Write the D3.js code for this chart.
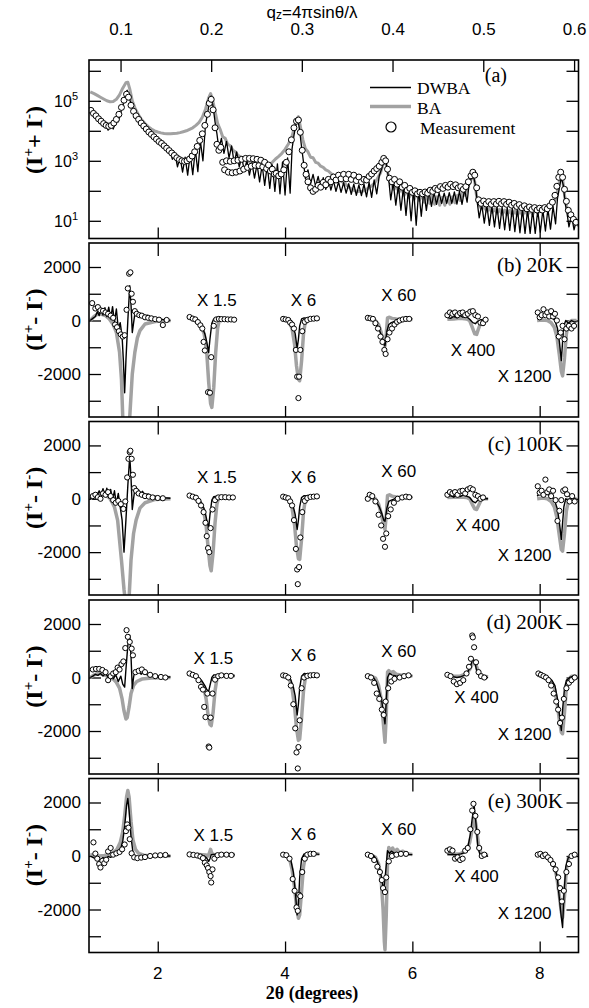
<!DOCTYPE html>
<html>
<head>
<meta charset="utf-8">
<script src="https://cdn.jsdelivr.net/npm/d3@7"></script>
<style>
  body { margin: 0; background: #fff; }
  svg { display: block; }
</style>
</head>
<body>
<svg id="fig" width="589" height="1008"></svg>
<script>
// ---------- axes ----------
const twoThetaTicks = [2, 4, 6, 8];
const qTicks = [0.1, 0.2, 0.3, 0.4, 0.5, 0.6];
const wavelength = 1.561;              // Å, used for the q_z top axis
const sumDecadeTicks = [1, 2, 3, 4, 5, 6];
const sumDecadeLabels = [1, 3, 5];
const diffTicks = [-3000, -2000, -1000, 0, 1000, 2000];
const diffTickLabels = [-2000, 0, 2000];
const scaleFactors = ["1.5", "6", "60", "400", "1200"];
const panelNames = ["(b) 20K", "(c) 100K", "(d) 200K", "(e) 300K"];

// ---------- (a) I+ + I-, values stored as log10(counts) vs 2θ (deg) ----------
const sumDWBA = [
  [0.94,4.72],[0.98,4.60],[1.02,4.56],[1.06,4.42],[1.10,4.40],[1.14,4.18],[1.18,4.26],[1.22,4.02],[1.26,4.22],[1.30,4.06],
  [1.34,4.30],[1.38,4.30],[1.42,4.62],[1.46,4.90],[1.50,5.28],[1.52,5.35],[1.55,5.10],[1.60,4.78],[1.65,4.56],[1.70,4.40],
  [1.75,4.24],[1.80,4.10],[1.85,3.98],[1.90,3.88],[1.95,3.78],[2.00,3.68],[2.05,3.60],[2.10,3.52],[2.15,3.42],
  [2.19,3.34],[2.23,3.05],[2.27,3.24],[2.31,2.80],[2.35,3.12],[2.39,2.62],[2.43,3.12],[2.47,2.52],[2.51,3.22],[2.55,2.54],
  [2.59,3.38],[2.63,2.64],[2.67,3.66],[2.71,3.00],[2.75,4.20],[2.78,4.55],[2.81,4.95],[2.84,5.16],[2.87,4.80],[2.90,4.30],
  [2.93,3.90],[2.96,3.40],[3.00,3.75],[3.04,3.25],[3.08,3.65],[3.12,3.10],[3.16,3.50],[3.20,2.95],[3.24,3.30],[3.28,2.80],
  [3.32,3.12],[3.36,2.65],[3.40,3.02],[3.44,2.52],[3.48,2.94],[3.52,2.42],[3.56,2.88],[3.60,2.30],[3.64,2.86],[3.68,2.18],
  [3.72,2.85],[3.76,2.08],[3.80,2.86],[3.84,1.98],[3.88,2.90],[3.92,1.90],[3.96,2.96],[4.00,1.86],[4.04,3.10],[4.08,1.92],
  [4.11,3.40],[4.14,3.85],[4.17,4.20],[4.20,4.40],[4.23,4.00],[4.26,3.45],[4.29,2.95],
  [4.32,2.40],[4.36,2.70],[4.40,2.22],[4.44,2.55],[4.48,2.15],[4.52,2.48],[4.56,2.08],[4.60,2.44],[4.64,2.05],[4.68,2.40],
  [4.72,2.02],[4.76,2.34],[4.80,1.98],[4.84,2.30],[4.88,1.95],[4.92,2.27],[4.96,1.92],[5.00,2.24],[5.04,1.88],[5.08,2.22],
  [5.12,1.85],[5.16,2.20],[5.20,1.84],[5.24,2.22],[5.28,1.80],[5.32,2.28],[5.36,1.78],[5.40,2.36],[5.44,1.90],[5.48,2.50],
  [5.52,2.75],[5.55,3.00],[5.57,3.08],[5.60,2.80],[5.63,2.35],
  [5.66,1.70],[5.70,2.28],[5.74,1.52],[5.78,2.18],[5.82,1.35],[5.86,2.12],[5.90,1.18],[5.94,2.08],[5.98,1.00],[6.02,2.05],
  [6.06,0.85],[6.10,2.02],[6.14,1.15],[6.18,2.00],[6.22,1.35],[6.26,1.98],[6.30,1.48],[6.34,1.95],[6.38,1.55],[6.42,1.93],
  [6.46,1.58],[6.50,1.92],[6.54,1.58],[6.58,1.94],[6.62,1.58],[6.66,1.96],[6.70,1.56],[6.74,1.98],[6.78,1.55],[6.82,2.04],
  [6.86,1.62],[6.89,2.20],[6.93,2.45],[6.96,2.50],[6.99,2.20],[7.02,1.60],
  [7.05,1.10],[7.09,1.55],[7.13,0.92],[7.17,1.52],[7.21,0.85],[7.25,1.49],[7.29,0.80],[7.33,1.47],[7.37,0.75],[7.41,1.46],
  [7.45,0.70],[7.49,1.44],[7.53,0.68],[7.57,1.43],[7.61,0.64],[7.65,1.41],[7.69,0.60],[7.73,1.38],[7.77,0.58],[7.81,1.36],
  [7.85,0.58],[7.89,1.35],[7.93,0.58],[7.97,1.35],[8.01,0.62],[8.05,1.36],[8.09,0.66],[8.13,1.40],[8.17,0.72],[8.21,1.48],
  [8.25,0.90],[8.28,1.75],[8.31,2.10],[8.34,2.45],[8.37,2.20],[8.40,1.60],[8.43,1.25],[8.46,0.80],[8.50,1.18],[8.54,0.70],
  [8.58,1.05],[8.61,0.80]
];

const sumBA = [
  [0.94,5.30],[1.00,5.24],[1.05,5.18],[1.10,5.12],[1.15,5.06],[1.20,5.00],[1.25,4.97],[1.30,4.98],[1.35,5.05],[1.40,5.20],
  [1.45,5.42],[1.50,5.60],[1.53,5.62],[1.56,5.40],[1.60,5.00],[1.65,4.72],[1.70,4.52],[1.75,4.36],[1.80,4.24],[1.85,4.14],
  [1.90,4.06],[1.95,4.00],[2.00,3.96],[2.05,3.93],[2.10,3.91],[2.15,3.90],[2.20,3.90],[2.25,3.91],[2.30,3.92],[2.35,3.94],
  [2.40,3.97],[2.45,4.00],[2.50,4.05],[2.55,4.10],[2.60,4.18],[2.65,4.28],[2.70,4.45],[2.75,4.72],[2.80,5.10],[2.83,5.24],
  [2.86,5.05],[2.90,4.65],[2.94,4.25],[2.98,4.05],[3.02,3.80],[3.06,3.75],[3.10,3.55],[3.14,3.50],[3.18,3.35],[3.22,3.30],
  [3.26,3.18],[3.30,3.13],[3.35,3.04],[3.40,3.00],[3.45,2.96],[3.50,2.93],[3.55,2.90],[3.60,2.86],[3.65,2.82],[3.70,2.82],
  [3.75,2.86],[3.80,2.95],[3.85,3.06],[3.90,3.15],[3.95,3.25],[4.00,3.38],[4.05,3.55],[4.10,3.75],[4.15,4.13],[4.18,4.38],
  [4.21,4.47],[4.24,4.15],[4.28,3.70],[4.32,3.40],[4.36,3.30],[4.40,3.12],[4.44,3.10],[4.48,2.95],[4.52,2.92],[4.56,2.82],
  [4.60,2.78],[4.64,2.70],[4.68,2.66],[4.72,2.58],[4.76,2.52],[4.80,2.45],[4.85,2.38],[4.90,2.30],[4.95,2.22],[5.00,2.12],
  [5.05,2.05],[5.10,2.00],[5.15,1.98],[5.20,1.98],[5.25,2.00],[5.30,2.08],[5.35,2.15],[5.40,2.25],[5.45,2.40],[5.50,2.60],
  [5.54,2.88],[5.57,3.02],[5.60,2.80],[5.63,2.40],[5.67,2.24],[5.71,2.05],[5.75,2.15],[5.79,1.95],[5.83,2.08],[5.87,1.85],
  [5.91,2.02],[5.95,1.78],[5.99,1.97],[6.03,1.72],[6.07,1.92],[6.11,1.68],[6.15,1.88],[6.19,1.62],[6.23,1.85],[6.27,1.58],
  [6.31,1.82],[6.35,1.55],[6.39,1.80],[6.43,1.52],[6.47,1.78],[6.51,1.52],[6.55,1.78],[6.59,1.55],[6.63,1.80],[6.67,1.60],
  [6.71,1.85],[6.75,1.68],[6.79,1.92],[6.83,1.85],[6.87,2.10],[6.91,2.35],[6.95,2.50],[6.98,2.30],[7.01,1.80],[7.05,1.50],
  [7.09,1.40],[7.13,1.45],[7.17,1.32],[7.21,1.42],[7.25,1.28],[7.29,1.40],[7.33,1.25],[7.37,1.38],[7.41,1.22],[7.45,1.36],
  [7.49,1.20],[7.53,1.35],[7.57,1.18],[7.61,1.34],[7.65,1.18],[7.69,1.34],[7.73,1.18],[7.77,1.35],[7.81,1.20],[7.85,1.36],
  [7.89,1.22],[7.93,1.38],[7.97,1.25],[8.01,1.40],[8.05,1.30],[8.09,1.44],[8.13,1.38],[8.17,1.50],[8.21,1.55],[8.25,1.75],
  [8.29,2.10],[8.33,2.55],[8.36,2.40],[8.40,1.70],[8.44,1.30],[8.48,1.15],[8.52,1.10],[8.56,1.05],[8.61,1.00]
];

const sumMeasured = [
  [0.95,4.68],[0.99,4.58],[1.03,4.50],[1.07,4.40],[1.11,4.32],[1.15,4.24],[1.19,4.18],[1.23,4.15],[1.27,4.18],[1.31,4.26],
  [1.35,4.38],[1.39,4.55],[1.43,4.78],[1.47,5.02],[1.51,5.22],[1.54,5.12],[1.58,4.85],[1.62,4.65],[1.66,4.50],[1.70,4.38],
  [1.74,4.26],[1.78,4.16],[1.82,4.06],[1.86,3.96],[1.90,3.88],[1.94,3.80],[1.98,3.72],[2.02,3.64],[2.06,3.58],[2.10,3.50],
  [2.14,3.42],[2.18,3.34],[2.22,3.26],[2.26,3.18],[2.30,3.10],[2.34,3.04],[2.38,3.00],[2.42,2.98],[2.46,3.00],[2.50,3.06],
  [2.54,3.16],[2.58,3.30],[2.62,3.48],[2.66,3.68],[2.70,3.90],[2.74,4.18],[2.78,4.55],[2.81,4.92],[2.84,5.05],[2.87,4.70],
  [2.90,4.10],[2.93,3.55],[2.96,3.35],[2.99,3.45],[3.02,2.95],[3.05,2.70],[3.08,3.00],[3.11,2.62],[3.14,2.98],[3.17,2.60],
  [3.20,3.00],[3.23,2.62],[3.26,3.02],[3.29,2.66],[3.32,3.05],[3.35,2.72],[3.38,3.08],[3.41,2.78],[3.44,3.08],[3.47,2.82],
  [3.50,3.07],[3.53,2.85],[3.56,3.05],[3.59,2.84],[3.62,3.02],[3.65,2.80],[3.68,2.95],[3.71,2.74],[3.74,2.86],[3.77,2.66],
  [3.80,2.72],[3.83,2.56],[3.86,2.58],[3.90,2.50],[3.94,2.56],[3.98,2.70],[4.02,2.95],[4.06,3.30],[4.10,3.70],[4.14,4.10],
  [4.18,4.32],[4.21,4.36],[4.24,3.95],[4.27,3.35],[4.30,2.85],[4.33,2.55],[4.36,2.30],[4.40,2.10],[4.44,1.98],[4.48,2.05],
  [4.52,2.18],[4.56,2.12],[4.60,2.28],[4.64,2.20],[4.68,2.38],[4.72,2.30],[4.76,2.46],[4.80,2.36],[4.84,2.52],[4.88,2.40],
  [4.92,2.55],[4.96,2.40],[5.00,2.55],[5.04,2.38],[5.08,2.52],[5.12,2.34],[5.16,2.46],[5.20,2.30],[5.24,2.38],[5.28,2.36],
  [5.32,2.48],[5.36,2.56],[5.40,2.66],[5.44,2.74],[5.48,2.82],[5.52,2.95],[5.55,3.08],[5.58,3.00],[5.61,2.72],[5.64,2.42],
  [5.68,2.30],[5.72,2.38],[5.76,2.22],[5.80,2.30],[5.84,2.12],[5.88,2.18],[5.92,2.02],[5.96,2.08],[6.00,1.95],[6.04,2.00],
  [6.08,1.90],[6.12,1.95],[6.16,1.90],[6.20,1.96],[6.24,1.92],[6.28,2.02],[6.32,1.98],[6.36,2.08],[6.40,2.04],[6.44,2.14],
  [6.48,2.08],[6.52,2.18],[6.56,2.12],[6.60,2.22],[6.64,2.14],[6.68,2.20],[6.72,2.10],[6.76,2.14],[6.80,2.05],[6.84,2.14],
  [6.88,2.30],[6.92,2.50],[6.95,2.62],[6.98,2.52],[7.01,2.10],[7.04,1.70],[7.08,1.58],[7.12,1.66],[7.16,1.56],[7.20,1.64],
  [7.24,1.55],[7.28,1.64],[7.32,1.56],[7.36,1.65],[7.40,1.57],[7.44,1.64],[7.48,1.55],[7.52,1.62],[7.56,1.52],[7.60,1.58],
  [7.64,1.48],[7.68,1.54],[7.72,1.44],[7.76,1.50],[7.80,1.40],[7.84,1.46],[7.88,1.38],[7.92,1.44],[7.96,1.36],[8.00,1.42],
  [8.04,1.36],[8.08,1.44],[8.12,1.40],[8.16,1.50],[8.20,1.62],[8.24,1.85],[8.27,2.15],[8.30,2.45],[8.33,2.62],[8.36,2.45],
  [8.39,2.05],[8.42,1.65],[8.45,1.35],[8.49,1.20],[8.53,1.05],[8.57,0.95]
];

// ---------- (b)-(e) I+ - I-, one array of Bragg-peak segments per series ----------
// (segments 2-6 are already multiplied by the factors in scaleFactors)
const dwba20K = [
  [[0.94,0],[0.98,80],[1.02,150],[1.05,330],[1.08,180],[1.11,450],[1.14,200],[1.17,480],[1.20,150],[1.23,500],[1.26,60],[1.29,520],[1.32,-60],[1.35,430],[1.38,-300],[1.41,-80],[1.44,-600],[1.46,-1500],[1.48,-2700],[1.50,-1500],[1.53,0],[1.56,1300],[1.58,600],[1.60,-450],[1.62,-100],[1.64,250],[1.67,180],[1.70,300],[1.73,150],[1.76,250],[1.80,150],[1.84,200],[1.88,100],[1.93,120],[1.98,60],[2.05,50],[2.12,20],[2.20,0]],
  [[2.47,80],[2.52,60],[2.57,50],[2.62,20],[2.66,-100],[2.70,-250],[2.74,-500],[2.77,-800],[2.80,-1200],[2.82,-700],[2.85,-100],[2.88,60],[2.93,80],[3.00,60],[3.10,50],[3.21,40]],
  [[3.95,60],[4.00,40],[4.05,20],[4.09,-60],[4.13,-250],[4.16,-500],[4.19,-1050],[4.21,-700],[4.23,-200],[4.26,60],[4.30,100],[4.38,80],[4.46,60],[4.54,50]],
  [[5.27,80],[5.33,60],[5.38,40],[5.43,-100],[5.48,-350],[5.52,-600],[5.55,-850],[5.57,-950],[5.60,-400],[5.63,-150],[5.67,-80],[5.72,-30],[5.80,20],[5.90,50],[6.00,60]],
  [[6.55,120],[6.60,80],[6.65,150],[6.70,100],[6.75,180],[6.80,120],[6.85,150],[6.90,50],[6.95,-80],[6.99,-120],[7.03,-20],[7.08,30],[7.13,0],[7.19,-20]],
  [[7.96,150],[8.01,200],[8.06,150],[8.11,220],[8.16,150],[8.20,100],[8.24,0],[8.28,-300],[8.31,-800],[8.34,-1500],[8.36,-800],[8.38,-200],[8.41,0],[8.45,-100],[8.50,0],[8.55,-60],[8.58,-40]]
];
const ba20K = [
  [[0.94,0],[1.00,150],[1.06,250],[1.12,230],[1.18,180],[1.24,60],[1.30,-150],[1.35,-440],[1.40,-1190],[1.43,-2200],[1.45,-3600],[1.48,-4600],[1.51,-5000],[1.54,-4600],[1.56,-3600],[1.60,-2000],[1.64,-1190],[1.68,-650],[1.72,-380],[1.80,-130],[1.96,-40],[2.20,0]],
  [[2.47,100],[2.52,80],[2.58,60],[2.63,-20],[2.68,-200],[2.73,-500],[2.77,-1200],[2.80,-2300],[2.83,-3100],[2.85,-3250],[2.88,-2500],[2.91,-1200],[2.94,-300],[2.97,60],[3.02,90],[3.10,60],[3.21,50]],
  [[3.95,40],[4.02,20],[4.07,-60],[4.11,-300],[4.15,-900],[4.18,-1700],[4.21,-2200],[4.23,-2250],[4.26,-1500],[4.29,-500],[4.32,0],[4.36,80],[4.45,70],[4.54,60]],
  [[5.27,60],[5.35,50],[5.42,0],[5.47,-150],[5.51,-450],[5.55,-850],[5.57,-950],[5.59,-500],[5.61,100],[5.64,120],[5.68,80],[5.75,60],[5.85,50],[6.00,40]],
  [[6.55,50],[6.65,60],[6.75,80],[6.85,60],[6.90,0],[6.94,-250],[6.98,-500],[7.01,-520],[7.04,-300],[7.08,-50],[7.12,20],[7.19,0]],
  [[7.96,0],[8.05,20],[8.12,0],[8.18,-80],[8.23,-250],[8.27,-600],[8.31,-1300],[8.34,-1900],[8.36,-2070],[8.39,-1400],[8.42,-500],[8.45,-100],[8.50,0],[8.58,0]]
];
const meas20K = [
  [[0.97,650],[1.02,450],[1.06,500],[1.10,380],[1.14,360],[1.18,300],[1.22,250],[1.26,180],[1.30,100],[1.33,-150],[1.36,-250],[1.39,-400],[1.42,-520],[1.45,-600],[1.48,-550],[1.51,400],[1.53,1200],[1.55,1750],[1.57,1800],[1.59,1000],[1.61,700],[1.64,350],[1.67,250],[1.71,200],[1.75,180],[1.80,120],[1.85,100],[1.90,80],[1.96,50],[2.02,30],[2.08,-170],[2.14,20]],
  [[2.50,130],[2.55,70],[2.59,40],[2.63,-60],[2.67,-180],[2.70,-300],[2.72,-800],[2.74,-1120],[2.79,-2680],[2.82,-2700],[2.84,-1370],[2.88,-200],[2.92,40],[2.96,60],[3.00,50],[3.05,50],[3.10,40],[3.15,40],[3.20,30]],
  [[3.97,60],[4.01,40],[4.05,20],[4.08,-80],[4.11,-150],[4.14,-300],[4.17,-1100],[4.19,-2100],[4.21,-2900],[4.22,-2100],[4.24,-1100],[4.27,-400],[4.31,-50],[4.35,20],[4.40,60],[4.45,70],[4.50,80]],
  [[5.30,100],[5.34,80],[5.38,60],[5.42,-100],[5.46,-300],[5.50,-600],[5.53,-800],[5.56,-1100],[5.58,-1250],[5.61,-700],[5.64,-450],[5.68,-300],[5.72,-150],[5.76,-50],[5.80,0],[5.85,40],[5.90,60],[5.95,60]],
  [[6.55,200],[6.59,300],[6.63,250],[6.67,300],[6.71,200],[6.75,280],[6.79,300],[6.83,200],[6.87,250],[6.91,330],[6.95,350],[6.99,200],[7.03,150],[7.07,-80],[7.11,-100],[7.15,30]],
  [[7.97,300],[8.00,120],[8.03,200],[8.06,420],[8.09,200],[8.12,300],[8.15,150],[8.18,350],[8.21,150],[8.24,250],[8.27,0],[8.30,-600],[8.33,-450],[8.36,-200],[8.39,-700],[8.42,-300],[8.46,-200],[8.50,-300],[8.54,-200]]
];

const dwba100K = [
  [[0.94,0],[0.98,100],[1.02,200],[1.05,120],[1.08,300],[1.11,150],[1.14,380],[1.17,100],[1.20,400],[1.23,50],[1.26,350],[1.29,-50],[1.32,300],[1.35,-200],[1.38,200],[1.41,-300],[1.44,-800],[1.47,-2000],[1.50,-800],[1.53,500],[1.56,1600],[1.58,800],[1.60,-400],[1.62,0],[1.64,350],[1.67,200],[1.70,330],[1.73,180],[1.76,280],[1.80,150],[1.85,180],[1.90,100],[1.96,100],[2.03,60],[2.10,40],[2.20,20]],
  [[2.47,100],[2.52,80],[2.57,60],[2.62,40],[2.66,-50],[2.70,-200],[2.74,-450],[2.77,-800],[2.80,-1100],[2.82,-600],[2.85,-50],[2.88,80],[2.93,100],[3.00,80],[3.10,60],[3.21,60]],
  [[3.95,70],[4.00,50],[4.05,30],[4.09,-80],[4.13,-300],[4.16,-600],[4.19,-1150],[4.21,-800],[4.23,-300],[4.26,50],[4.30,120],[4.38,100],[4.46,80],[4.54,60]],
  [[5.27,60],[5.33,50],[5.38,20],[5.43,-100],[5.48,-300],[5.52,-550],[5.55,-800],[5.57,-840],[5.60,-350],[5.63,-100],[5.67,-50],[5.72,0],[5.80,40],[5.90,60],[6.00,60]],
  [[6.55,80],[6.60,120],[6.65,60],[6.70,150],[6.75,80],[6.80,150],[6.85,100],[6.90,50],[6.95,-100],[6.99,-150],[7.03,-50],[7.08,20],[7.13,0],[7.19,0]],
  [[7.96,100],[8.01,200],[8.06,120],[8.11,200],[8.16,100],[8.20,50],[8.24,-100],[8.28,-400],[8.31,-900],[8.34,-1520],[8.36,-900],[8.38,-300],[8.41,0],[8.45,-50],[8.50,50],[8.55,0],[8.58,-20]]
];
const ba100K = [
  [[0.94,0],[1.00,120],[1.06,200],[1.12,180],[1.18,120],[1.24,40],[1.28,-120],[1.32,-310],[1.37,-810],[1.43,-2300],[1.47,-3400],[1.50,-4000],[1.52,-4100],[1.55,-3700],[1.58,-2300],[1.62,-1300],[1.66,-800],[1.72,-350],[1.80,-150],[1.95,-30],[2.20,0]],
  [[2.47,120],[2.53,100],[2.58,60],[2.63,-20],[2.68,-200],[2.72,-450],[2.76,-1000],[2.79,-1800],[2.82,-2500],[2.84,-2700],[2.87,-2000],[2.90,-900],[2.93,-200],[2.96,80],[3.02,100],[3.10,80],[3.21,70]],
  [[3.95,50],[4.02,30],[4.07,-80],[4.11,-350],[4.15,-1000],[4.18,-1800],[4.21,-2250],[4.23,-2270],[4.26,-1500],[4.29,-500],[4.32,0],[4.36,100],[4.45,90],[4.54,70]],
  [[5.27,50],[5.35,40],[5.42,0],[5.47,-200],[5.51,-550],[5.55,-1000],[5.57,-1150],[5.59,-600],[5.61,120],[5.64,150],[5.68,100],[5.75,70],[5.85,60],[6.00,50]],
  [[6.55,50],[6.65,60],[6.75,70],[6.85,50],[6.90,0],[6.94,-200],[6.98,-380],[7.01,-400],[7.04,-250],[7.08,-50],[7.12,0],[7.19,0]],
  [[7.96,0],[8.05,30],[8.12,0],[8.18,-100],[8.23,-300],[8.27,-700],[8.31,-1400],[8.34,-1900],[8.36,-1960],[8.39,-1300],[8.42,-450],[8.45,-100],[8.50,0],[8.58,0]]
];
const meas100K = [
  [[0.98,100],[1.02,150],[1.06,60],[1.10,0],[1.14,200],[1.18,150],[1.22,250],[1.26,100],[1.30,-50],[1.34,-150],[1.38,-80],[1.42,-200],[1.46,-380],[1.49,-100],[1.52,800],[1.54,1500],[1.56,1750],[1.57,1800],[1.59,1500],[1.61,900],[1.63,400],[1.66,300],[1.70,200],[1.75,150],[1.80,100],[1.86,80],[1.92,50],[2.00,30],[2.08,20]],
  [[2.50,120],[2.55,80],[2.60,40],[2.64,-80],[2.68,-250],[2.72,-500],[2.75,-900],[2.77,-1400],[2.79,-1850],[2.81,-2000],[2.83,-1100],[2.86,-400],[2.90,-50],[2.95,50],[3.00,60],[3.06,60],[3.12,50],[3.18,50]],
  [[3.97,80],[4.01,50],[4.05,20],[4.08,-100],[4.11,-250],[4.14,-800],[4.17,-1880],[4.19,-2650],[4.20,-3200],[4.22,-2560],[4.24,-1450],[4.27,-500],[4.31,-80],[4.35,30],[4.40,70],[4.45,80],[4.50,90]],
  [[5.30,0],[5.33,150],[5.37,100],[5.42,-100],[5.47,-600],[5.51,-1000],[5.54,-1500],[5.57,-1800],[5.59,-1300],[5.62,-650],[5.66,-400],[5.71,-150],[5.77,0],[5.84,50],[5.90,80],[5.95,60]],
  [[6.55,150],[6.59,250],[6.63,200],[6.67,250],[6.71,150],[6.75,280],[6.79,300],[6.83,200],[6.87,350],[6.91,400],[6.95,350],[6.99,150],[7.03,100],[7.07,0],[7.11,50]],
  [[7.97,470],[8.00,230],[8.03,300],[8.06,150],[8.09,720],[8.12,250],[8.15,350],[8.18,100],[8.21,300],[8.25,-50],[8.28,-830],[8.31,-450],[8.34,-50],[8.37,300],[8.40,350],[8.43,170],[8.47,-100],[8.51,100],[8.55,-100]]
];

const dwba200K = [
  [[0.94,0],[0.98,50],[1.02,120],[1.06,80],[1.10,150],[1.14,60],[1.18,150],[1.22,20],[1.26,120],[1.30,-50],[1.34,100],[1.38,-150],[1.42,50],[1.45,-250],[1.48,-360],[1.50,300],[1.53,1200],[1.56,1580],[1.58,800],[1.60,-410],[1.62,0],[1.64,270],[1.67,150],[1.70,250],[1.74,120],[1.78,200],[1.83,100],[1.88,130],[1.94,60],[2.02,50],[2.10,30],[2.20,20]],
  [[2.47,100],[2.52,80],[2.57,60],[2.62,40],[2.66,-50],[2.70,-150],[2.74,-300],[2.77,-450],[2.80,-520],[2.82,-300],[2.85,0],[2.88,100],[2.93,100],[3.00,80],[3.10,60],[3.21,60]],
  [[3.95,80],[4.00,60],[4.05,30],[4.09,-80],[4.13,-350],[4.16,-700],[4.19,-1400],[4.21,-1000],[4.23,-400],[4.26,50],[4.30,150],[4.38,120],[4.46,100],[4.54,80]],
  [[5.27,80],[5.33,60],[5.38,30],[5.43,-150],[5.48,-500],[5.52,-900],[5.55,-1400],[5.57,-1730],[5.59,-900],[5.61,0],[5.64,150],[5.68,100],[5.74,60],[5.82,50],[5.90,60],[6.00,60]],
  [[6.55,50],[6.62,40],[6.70,0],[6.76,30],[6.82,80],[6.87,200],[6.91,400],[6.95,700],[6.98,600],[7.01,250],[7.05,50],[7.10,0],[7.19,0]],
  [[7.96,100],[8.02,80],[8.08,50],[8.14,0],[8.19,-100],[8.24,-300],[8.28,-800],[8.31,-1400],[8.34,-1980],[8.36,-1200],[8.39,-400],[8.42,-100],[8.47,0],[8.53,50],[8.58,30]]
];
const ba200K = [
  [[0.94,0],[1.00,100],[1.06,150],[1.12,130],[1.18,80],[1.24,20],[1.30,-60],[1.35,-180],[1.40,-400],[1.44,-800],[1.47,-1250],[1.50,-1550],[1.52,-1500],[1.55,-1100],[1.58,-600],[1.62,-300],[1.67,-150],[1.75,-60],[1.90,-20],[2.20,0]],
  [[2.47,120],[2.53,100],[2.58,60],[2.63,-20],[2.68,-150],[2.72,-350],[2.76,-800],[2.79,-1400],[2.82,-1750],[2.84,-1800],[2.87,-1300],[2.90,-500],[2.93,-50],[2.96,80],[3.02,100],[3.10,80],[3.21,70]],
  [[3.95,60],[4.02,30],[4.07,-80],[4.11,-400],[4.15,-1100],[4.18,-1900],[4.21,-2350],[4.23,-2300],[4.26,-1500],[4.29,-500],[4.32,0],[4.36,120],[4.45,100],[4.54,80]],
  [[5.27,60],[5.35,50],[5.42,-20],[5.47,-300],[5.51,-800],[5.54,-1600],[5.57,-2420],[5.59,-1400],[5.61,200],[5.63,260],[5.66,180],[5.70,220],[5.75,120],[5.85,80],[6.00,60]],
  [[6.55,80],[6.65,60],[6.75,50],[6.85,150],[6.90,300],[6.94,500],[6.98,560],[7.01,400],[7.05,150],[7.10,50],[7.19,30]],
  [[7.96,80],[8.05,60],[8.12,0],[8.18,-150],[8.23,-400],[8.27,-900],[8.31,-1600],[8.34,-2050],[8.36,-2100],[8.39,-1300],[8.42,-400],[8.45,-80],[8.50,50],[8.58,50]]
];
const meas200K = [
  [[0.98,300],[1.03,320],[1.08,320],[1.13,280],[1.18,200],[1.22,-100],[1.26,50],[1.30,150],[1.34,200],[1.37,370],[1.40,300],[1.43,500],[1.46,600],[1.49,1100],[1.51,1770],[1.53,1520],[1.56,1330],[1.59,1080],[1.61,830],[1.65,200],[1.70,250],[1.75,300],[1.80,200],[1.88,100],[1.96,50],[2.05,20],[2.12,0]],
  [[2.50,150],[2.55,100],[2.60,50],[2.64,-100],[2.68,-350],[2.71,-450],[2.73,-1100],[2.75,-1480],[2.78,-600],[2.80,-2580],[2.81,-2620],[2.83,-1500],[2.86,-600],[2.90,-80],[2.95,50],[3.00,80],[3.08,60],[3.15,60]],
  [[3.97,80],[4.01,60],[4.05,0],[4.09,-300],[4.13,-1000],[4.16,-1900],[4.18,-2800],[4.20,-3400],[4.21,-2600],[4.23,-1600],[4.26,-400],[4.30,0],[4.35,60],[4.40,80],[4.45,90],[4.50,80]],
  [[5.30,50],[5.35,0],[5.40,-200],[5.44,-600],[5.48,-800],[5.52,-1200],[5.55,-1400],[5.58,-900],[5.62,-400],[5.67,-150],[5.72,-50],[5.80,0],[5.87,50],[5.94,80]],
  [[6.55,100],[6.60,50],[6.65,-150],[6.70,-250],[6.75,-200],[6.80,-100],[6.85,150],[6.89,400],[6.92,700],[6.94,1570],[6.95,1500],[6.97,1130],[7.00,570],[7.04,200],[7.08,50],[7.13,0]],
  [[7.98,150],[8.02,100],[8.06,50],[8.10,0],[8.14,-100],[8.18,-300],[8.22,-600],[8.26,-900],[8.29,-1200],[8.32,-1700],[8.35,-1500],[8.38,-800],[8.42,-400],[8.46,-200],[8.50,-100],[8.55,0]]
];

const dwba300K = [
  [[0.94,0],[0.98,-50],[1.02,-100],[1.06,-80],[1.10,-150],[1.14,-60],[1.18,-120],[1.22,-20],[1.26,-50],[1.30,20],[1.34,50],[1.38,150],[1.42,300],[1.45,550],[1.48,1100],[1.51,1900],[1.53,2150],[1.55,1700],[1.58,700],[1.61,150],[1.64,-60],[1.68,-100],[1.74,-80],[1.82,-50],[1.92,-30],[2.05,0],[2.20,0]],
  [[2.47,60],[2.55,50],[2.62,40],[2.68,20],[2.73,0],[2.77,-80],[2.80,-200],[2.82,-100],[2.84,50],[2.87,60],[2.92,60],[3.00,50],[3.10,50],[3.21,50]],
  [[3.95,60],[4.00,40],[4.05,0],[4.09,-150],[4.13,-600],[4.16,-1300],[4.19,-2200],[4.21,-1800],[4.23,-800],[4.26,-100],[4.30,80],[4.38,100],[4.46,80],[4.54,60]],
  [[5.27,50],[5.33,40],[5.40,0],[5.45,-200],[5.50,-600],[5.53,-1000],[5.55,-1300],[5.58,-600],[5.61,200],[5.64,100],[5.67,180],[5.72,100],[5.78,120],[5.85,80],[5.92,60],[6.00,50]],
  [[6.55,50],[6.62,60],[6.70,50],[6.76,80],[6.82,120],[6.87,300],[6.91,800],[6.94,1400],[6.97,1900],[7.00,1200],[7.03,300],[7.07,0],[7.12,-30],[7.19,0]],
  [[7.96,50],[8.02,40],[8.08,0],[8.14,-50],[8.19,-150],[8.24,-400],[8.28,-900],[8.31,-1600],[8.34,-2300],[8.36,-2670],[8.38,-1500],[8.41,-400],[8.45,-50],[8.50,0],[8.58,0]]
];
const ba300K = [
  [[0.94,50],[1.00,30],[1.08,0],[1.16,20],[1.24,60],[1.30,120],[1.36,250],[1.41,500],[1.45,900],[1.48,1500],[1.51,2200],[1.53,2450],[1.55,2200],[1.58,1300],[1.61,600],[1.65,250],[1.70,100],[1.78,30],[1.90,0],[2.05,10],[2.20,0]],
  [[2.47,70],[2.55,60],[2.62,60],[2.70,50],[2.76,40],[2.79,0],[2.81,100],[2.83,250],[2.85,100],[2.88,50],[2.95,60],[3.05,60],[3.21,60]],
  [[3.95,50],[4.02,20],[4.07,-100],[4.11,-500],[4.15,-1200],[4.18,-1900],[4.21,-2330],[4.23,-2200],[4.26,-1300],[4.29,-400],[4.32,0],[4.36,100],[4.45,90],[4.54,70]],
  [[5.27,60],[5.35,50],[5.42,-50],[5.47,-300],[5.51,-900],[5.54,-2000],[5.56,-3200],[5.57,-3500],[5.59,-2200],[5.61,-200],[5.63,320],[5.66,180],[5.69,300],[5.72,150],[5.76,250],[5.80,120],[5.85,180],[5.90,80],[6.00,60]],
  [[6.55,80],[6.65,70],[6.75,80],[6.85,200],[6.90,500],[6.94,1000],[6.98,1440],[7.01,1000],[7.04,400],[7.08,100],[7.12,50],[7.19,30]],
  [[7.96,80],[8.05,60],[8.12,0],[8.18,-150],[8.23,-400],[8.27,-800],[8.31,-1500],[8.34,-2100],[8.36,-2300],[8.39,-1500],[8.42,-500],[8.45,-100],[8.50,30],[8.58,50]]
];
const meas300K = [
  [[0.99,510],[1.02,90],[1.05,-100],[1.08,-300],[1.10,-430],[1.13,-180],[1.16,-270],[1.19,-140],[1.22,170],[1.26,300],[1.30,50],[1.35,100],[1.40,150],[1.44,250],[1.48,430],[1.50,930],[1.52,1180],[1.54,1060],[1.56,630],[1.59,100],[1.63,-50],[1.68,-80],[1.74,-60],[1.80,-40],[1.88,0],[1.96,20],[2.04,30],[2.12,40]],
  [[2.50,60],[2.56,40],[2.62,20],[2.67,-20],[2.71,-80],[2.74,-250],[2.77,-350],[2.79,-450],[2.81,-600],[2.83,-750],[2.84,-990],[2.86,-500],[2.89,-100],[2.94,30],[3.00,50],[3.08,50],[3.16,40]],
  [[3.97,50],[4.02,30],[4.07,-100],[4.12,-860],[4.15,-1300],[4.18,-1920],[4.20,-2050],[4.22,-1450],[4.24,-1500],[4.27,-600],[4.31,-100],[4.35,50],[4.40,80],[4.45,80]],
  [[5.30,50],[5.35,0],[5.40,-150],[5.45,-400],[5.49,-600],[5.52,-900],[5.54,-1200],[5.57,-1350],[5.59,-800],[5.63,-200],[5.68,0],[5.75,50],[5.82,80],[5.90,80]],
  [[6.55,200],[6.59,250],[6.63,200],[6.67,-100],[6.71,-50],[6.75,-150],[6.79,-100],[6.83,200],[6.87,300],[6.91,1000],[6.94,1700],[6.96,1950],[6.99,1500],[7.02,900],[7.05,300],[7.09,0],[7.13,50]],
  [[7.97,50],[8.01,80],[8.05,0],[8.09,50],[8.13,-50],[8.17,-150],[8.21,-300],[8.25,-500],[8.29,-800],[8.32,-1200],[8.35,-1700],[8.38,-1300],[8.42,-600],[8.46,-300],[8.50,0],[8.55,50]]
];

// ---------- layout ----------
const W = 589, H = 1008;
const left = 89, right = 578.5;
const GRAY = "#a2a2a2";
const SANS = "'Liberation Sans', Arial, Helvetica, sans-serif";
const SERIF = "'Liberation Serif', 'Times New Roman', Times, serif";

const svg = d3.select("#fig");
svg.append("rect").attr("width", W).attr("height", H).attr("fill", "#fff");
const defs = svg.append("defs");

const x = d3.scaleLinear().domain([0.92, 8.61]).range([left, right]);
// q_z = 4π sinθ / λ  ->  2θ position on the shared x axis
const qToTwoTheta = q => 2 * Math.asin(q * wavelength / (4 * Math.PI)) * 180 / Math.PI;

function frameAndAxes(g, top, bottom, yScale, yTickVals, id) {
  defs.append("clipPath").attr("id", id)
    .append("rect").attr("x", left).attr("y", top).attr("width", right - left).attr("height", bottom - top);

  const ax = g.append("g").attr("class", "axes");
  const inward = sel => sel.call(s => s.select(".domain").remove())
                          .call(s => s.selectAll("line").attr("stroke", "#000").attr("stroke-width", 1.3));
  ax.append("g").attr("transform", `translate(${left},0)`)
    .call(d3.axisLeft(yScale).tickValues(yTickVals).tickSize(-12).tickFormat(""))
    .call(inward);
  ax.append("g").attr("transform", `translate(${right},0)`)
    .call(d3.axisRight(yScale).tickValues(yTickVals).tickSize(-12).tickFormat(""))
    .call(inward);
  ax.append("g").attr("transform", `translate(0,${bottom})`)
    .call(d3.axisBottom(x).tickValues(twoThetaTicks).tickSize(-11).tickFormat(""))
    .call(inward);
  return ax;
}

function drawFrame(g, top, bottom) {
  g.append("rect").attr("x", left).attr("y", top)
    .attr("width", right - left).attr("height", bottom - top)
    .attr("fill", "none").attr("stroke", "#000").attr("stroke-width", 1.6);
}

function yTitle(g, cy, sign) {
  const t = g.append("text")
    .attr("transform", `translate(42,${cy}) rotate(-90)`)
    .attr("text-anchor", "middle")
    .attr("font-family", SERIF).attr("font-weight", "bold").attr("font-size", 24);
  t.append("tspan").text("(I");
  t.append("tspan").attr("dy", -9).attr("font-size", 15).text("+");
  t.append("tspan").attr("dy", 9).text(sign + " I");
  t.append("tspan").attr("dy", -9).attr("font-size", 15).text("-");
  t.append("tspan").attr("dy", 9).text(")");
}

// ---------- panel (a) ----------
{
  const top = 60, bottom = 238.5;
  const y = d3.scaleLog().domain([10 ** 0.41, 10 ** 6.36]).range([bottom, top]);
  const g = svg.append("g");
  const ax = frameAndAxes(g, top, bottom, y, sumDecadeTicks.map(e => 10 ** e), "clip-a");

  // q_z ticks along the top edge
  const qPos = q => x(qToTwoTheta(q));
  ax.selectAll("line.q").data(qTicks).join("line")
    .attr("x1", qPos).attr("x2", qPos).attr("y1", top).attr("y2", top + 12)
    .attr("stroke", "#000").attr("stroke-width", 1.3);
  g.selectAll("text.q").data(qTicks).join("text")
    .attr("x", qPos).attr("y", 35).attr("text-anchor", "middle")
    .attr("font-family", SANS).attr("font-size", 17).text(d => d.toFixed(1));

  const title = g.append("text").attr("x", 312).attr("y", 18).attr("text-anchor", "middle")
    .attr("font-family", SANS).attr("font-size", 17);
  title.append("tspan").text("q");
  title.append("tspan").attr("font-size", 12).attr("dy", 1).text("z");
  title.append("tspan").attr("dy", -1).text("=4πsinθ/λ");

  // decade labels
  sumDecadeLabels.forEach(e => {
    const t = g.append("text").attr("x", 78).attr("y", y(10 ** e) + 6)
      .attr("text-anchor", "end").attr("font-family", SANS).attr("font-size", 16);
    t.append("tspan").text("10");
    t.append("tspan").attr("dy", -7).attr("font-size", 11).text(e);
  });

  const plot = g.append("g").attr("clip-path", "url(#clip-a)");
  const line = d3.line().x(d => x(d[0])).y(d => y(10 ** d[1]));
  plot.append("path").datum(sumBA).attr("d", line)
    .attr("fill", "none").attr("stroke", GRAY).attr("stroke-width", 3).attr("stroke-linejoin", "round");
  plot.append("path").datum(sumDWBA).attr("d", line)
    .attr("fill", "none").attr("stroke", "#000").attr("stroke-width", 1.3).attr("stroke-linejoin", "round");
  plot.selectAll("circle").data(sumMeasured).join("circle")
    .attr("cx", d => x(d[0])).attr("cy", d => y(10 ** d[1])).attr("r", 3)
    .attr("fill", "#fff").attr("stroke", "#000").attr("stroke-width", 1);

  drawFrame(g, top, bottom);
  yTitle(g, 140, "+");

  g.append("text").attr("x", 507).attr("y", 82).attr("text-anchor", "end")
    .attr("font-family", SERIF).attr("font-size", 20).text("(a)");

  // legend
  const lg = g.append("g").attr("font-family", SERIF).attr("font-size", 17.5);
  lg.append("line").attr("x1", 370).attr("x2", 411).attr("y1", 87.5).attr("y2", 87.5)
    .attr("stroke", "#000").attr("stroke-width", 1.5);
  lg.append("text").attr("x", 417).attr("y", 93.5).text("DWBA");
  lg.append("line").attr("x1", 370).attr("x2", 411).attr("y1", 106.5).attr("y2", 106.5)
    .attr("stroke", GRAY).attr("stroke-width", 3.5);
  lg.append("text").attr("x", 417).attr("y", 113.5).text("BA");
  lg.append("circle").attr("cx", 391).attr("cy", 127).attr("r", 5)
    .attr("fill", "#fff").attr("stroke", "#000").attr("stroke-width", 1.2);
  lg.append("text").attr("x", 420).attr("y", 133.5).text("Measurement");
}

// ---------- panels (b)-(e) ----------
const diffPanels = [
  { name: panelNames[0], top: 243,   bottom: 417,   dwba: dwba20K,  ba: ba20K,  meas: meas20K,
    tags: [[2.616,-15],[4.09,-15],[5.51,-20],[6.605,35],[7.34,61]] },
  { name: panelNames[1], top: 421.5, bottom: 595,   dwba: dwba100K, ba: ba100K, meas: meas100K,
    tags: [[2.616,-15.5],[4.09,-15.5],[5.51,-21.5],[6.68,32],[7.34,62]] },
  { name: panelNames[2], top: 600,   bottom: 774,   dwba: dwba200K, ba: ba200K, meas: meas200K,
    tags: [[2.56,-13.5],[4.09,-17],[5.51,-21],[6.66,25],[7.34,62]] },
  { name: panelNames[3], top: 778.5, bottom: 952.5, dwba: dwba300K, ba: ba300K, meas: meas300K,
    tags: [[2.56,-15.5],[4.09,-16.5],[5.51,-21.5],[6.66,25.5],[7.34,62.5]] }
];

diffPanels.forEach((p, i) => {
  const y = d3.scaleLinear().domain([-3607, 2897]).range([p.bottom, p.top]);
  const g = svg.append("g");
  const ax = frameAndAxes(g, p.top, p.bottom, y, diffTicks, "clip-d" + i);
  ax.append("g").attr("transform", `translate(0,${p.top})`)
    .call(d3.axisTop(x).tickValues(twoThetaTicks).tickSize(-13).tickFormat(""))
    .call(s => s.select(".domain").remove())
    .call(s => s.selectAll("line").attr("stroke", "#000").attr("stroke-width", 1.3));

  g.selectAll("text.yl").data(diffTickLabels).join("text")
    .attr("x", 81).attr("y", d => y(d) + 6).attr("text-anchor", "end")
    .attr("font-family", SANS).attr("font-size", 17).text(d => d);

  const plot = g.append("g").attr("clip-path", `url(#clip-d${i})`);
  const line = d3.line().x(d => x(d[0])).y(d => y(d[1]));
  plot.selectAll("path.ba").data(p.ba).join("path").attr("class", "ba").attr("d", line)
    .attr("fill", "none").attr("stroke", GRAY).attr("stroke-width", 3.5).attr("stroke-linejoin", "round");
  plot.selectAll("path.dwba").data(p.dwba).join("path").attr("class", "dwba").attr("d", line)
    .attr("fill", "none").attr("stroke", "#000").attr("stroke-width", 1.4).attr("stroke-linejoin", "round");
  plot.selectAll("circle").data(p.meas.flat()).join("circle")
    .attr("cx", d => x(d[0])).attr("cy", d => y(d[1])).attr("r", 2.6)
    .attr("fill", "#fff").attr("stroke", "#000").attr("stroke-width", 1);

  // multiplication factors of the higher-order segments
  const zero = y(0);
  g.selectAll("text.factor").data(scaleFactors).join("text")
    .attr("x", (d, k) => x(p.tags[k][0])).attr("y", (d, k) => zero + p.tags[k][1])
    .attr("font-family", SANS).attr("font-size", 17).text(d => "X " + d);

  drawFrame(g, p.top, p.bottom);
  yTitle(g, zero - 1, "-");
  g.append("text").attr("x", 563).attr("y", p.top + 29).attr("text-anchor", "end")
    .attr("font-family", SERIF).attr("font-size", 21).text(p.name);
});

// ---------- bottom axis labels ----------
svg.selectAll("text.xt").data(twoThetaTicks).join("text")
  .attr("x", d => x(d)).attr("y", 979).attr("text-anchor", "middle")
  .attr("font-family", SANS).attr("font-size", 17).text(d => d);
svg.append("text").attr("x", 312).attr("y", 999).attr("text-anchor", "middle")
  .attr("font-family", SERIF).attr("font-weight", "bold").attr("font-size", 18)
  .text("2θ (degrees)");
</script>
</body>
</html>
